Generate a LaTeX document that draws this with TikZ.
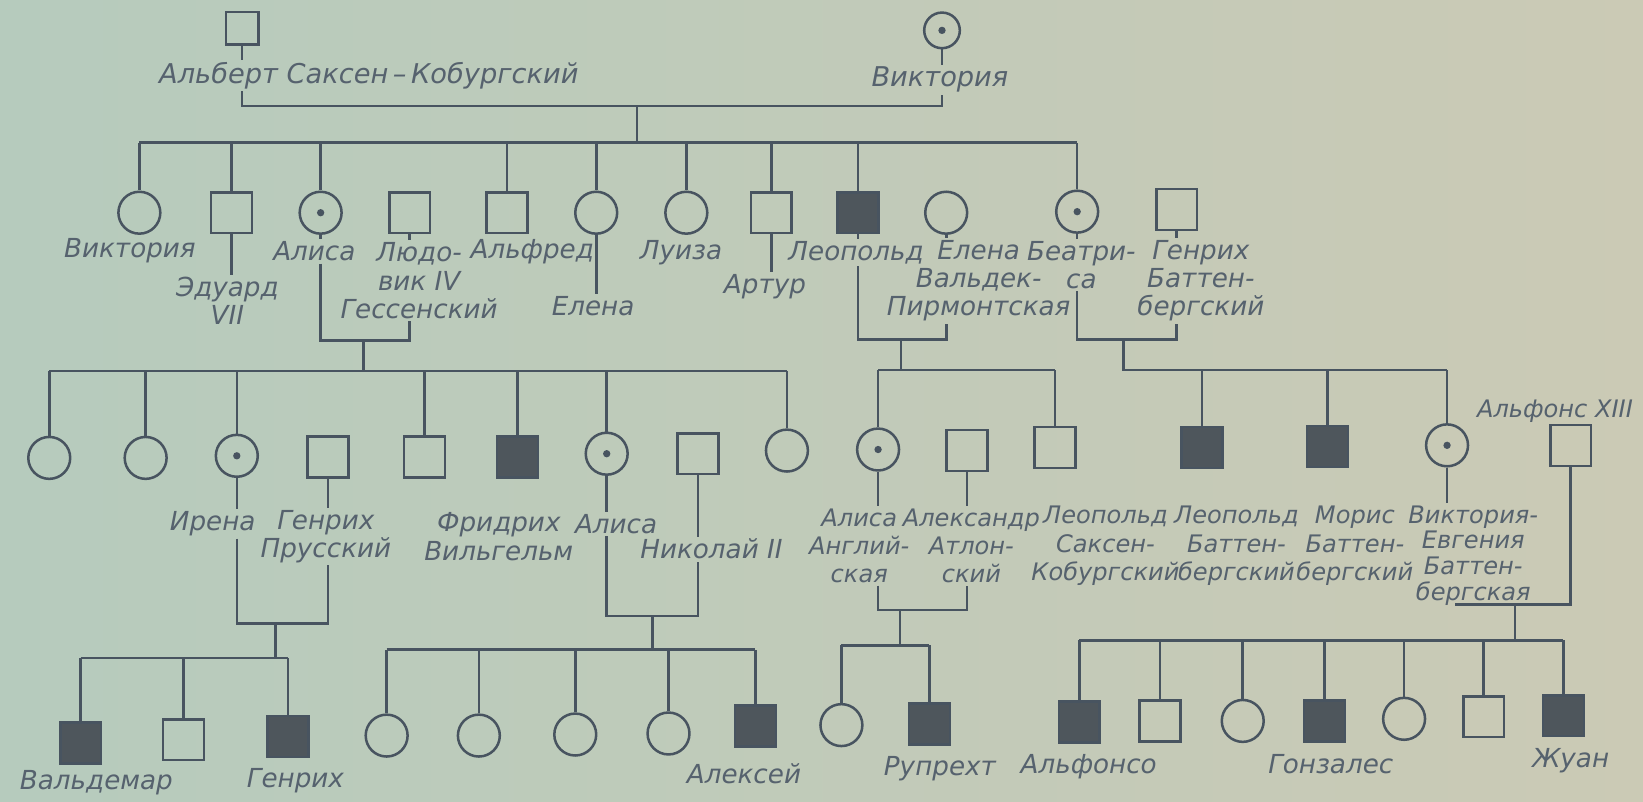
\documentclass[tikz,border=0pt]{standalone}
\usepackage{fontspec}
\setmainfont{DejaVu Sans}
\usepackage{tikz}
\usetikzlibrary{calc}
\usepackage{xcolor}
\definecolor{paperl}{RGB}{182,203,189}
\definecolor{paperr}{RGB}{203,202,181}
\definecolor{ink}{RGB}{72,84,96}
\definecolor{txt}{RGB}{86,98,110}
\definecolor{fillc}{RGB}{78,86,92}

\tikzset{
  male/.style={draw=ink, rectangle, minimum size=39pt, inner sep=0pt, line width=2.4pt},
  ill/.style={male, fill=fillc},
  female/.style={draw=ink, circle, minimum size=40pt, inner sep=0pt, line width=2.4pt},
  carrier/.style={female, path picture={\fill[ink] (path picture bounding box.center) circle (3.5pt);}},
  lbl/.style={text=txt, font=\fontsize{25}{27}\selectfont\itshape, align=center, inner sep=1pt},
  slbl/.style={lbl, font=\fontsize{23}{27}\selectfont\itshape},
}

\begin{document}
\begin{tikzpicture}[x=1pt, y=-1pt, line width=2.5pt, color=ink]
    % фон
    \shade[left color=paperl, right color=paperr] (0,0) rectangle (1568,765);
    \useasboundingbox (0,0) rectangle (1568,765);

    % I поколение
    \node[male, minimum size=31pt] (alb) at (231,27) {};
    \node[carrier, minimum size=34pt] (vic) at (899,29) {};
    \node[lbl, font=\fontsize{26}{28}\selectfont\itshape] (alb-l) at (352,72) {Альберт Саксен\,–\,Кобургский};
    \node[lbl, font=\fontsize{26}{28}\selectfont\itshape] (vic-l) at (897,76) {Виктория};
    \coordinate (mI) at (608,101);
    \draw (alb.south) -- (alb.south |- alb-l.north);
    \draw (vic.south) -- (vic.south |- vic-l.north);
    \draw (alb.south |- alb-l.south) |- (mI) -| (vic.south |- vic-l.south);

    % II поколение
    \node[female]  (c1)  at (133,203) {};
    \node[male]    (c2)  at (221,203) {};
    \node[carrier] (c3)  at (306,203) {};
    \node[male]    (c4)  at (391,203) {};
    \node[male]    (c5)  at (484,203) {};
    \node[female]  (c6)  at (569,203) {};
    \node[female]  (c7)  at (655,203) {};
    \node[male]    (c8)  at (736,203) {};
    \node[ill]     (c9)  at (819,203) {};
    \node[female]  (c10) at (903,203) {};
    \node[carrier] (c11) at (1028,202) {};
    \node[male]    (c12) at (1123,200) {};

    \node[lbl] (c1-l)  at (124,239)  {Виктория};
    \node[lbl] (c2-l)  at (217,287)  {Эдуард\\VII};
    \node[lbl] (c3-l)  at (300,240)  {Алиса};
    \node[lbl] (c4-l)  at (400,268)  {Людо-\\вик IV\\Гессенский};
    \node[lbl] (c5-l)  at (508,240)  {Альфред};
    \node[lbl] (c6-l)  at (566,292)  {Елена};
    \node[lbl] (c7-l)  at (650,241)  {Луиза};
    \node[lbl] (c8-l)  at (730,274)  {Артур};
    \node[lbl] (c9-l)  at (817,241)  {Леопольд};
    \node[lbl] (c10-l) at (934,268)  {Елена\\Вальдек-\\Пирмонтская};
    \node[lbl] (c11-l) at (1032,253) {Беатри-\\са};
    \node[lbl] (c12-l) at (1146,268) {Генрих\\Баттен-\\бергский};

    \coordinate (sII) at (608,136);
    \draw (mI) -- (sII);
    \draw (sII -| c1) -- (sII -| c11);
    \foreach \k in {c1,c2,c3,c5,c6,c7,c8,c9,c11}
        \draw (\k.north) -- (\k |- sII);
    \foreach \k in {c2,c3,c4,c6,c8,c9,c10,c11,c12}
        \draw (\k.south) -- (\k.south |- \k-l.north);

    \coordinate (mA) at (347,325);
    \draw (c3.south |- c3-l.south) |- (mA) -| (c4.south |- c4-l.south);
    \coordinate (mL) at (860,324);
    \draw (c9.south |- c9-l.south) |- (mL) -| (c10.south |- c10-l.south);
    \coordinate (mB) at (1072,324);
    \draw (c11.south |- c11-l.south) |- (mB) -| (c12.south |- c12-l.south);

    % III поколение
    \node[female]  (h1) at (47,437)  {};
    \node[female]  (h2) at (139,437) {};
    \node[carrier] (h3) at (226,435) {};
    \node[male]    (h4) at (313,436) {};
    \node[male]    (h5) at (405,436) {};
    \node[ill]     (h6) at (494,436) {};
    \node[carrier] (h7) at (579,433) {};
    \node[male]    (h8) at (666,433) {};
    \node[female]  (h9) at (751,430) {};
    \node[carrier] (l1) at (838,429)  {};
    \node[male]    (l2) at (923,430)  {};
    \node[male]    (l3) at (1007,427) {};
    \node[ill]     (b1) at (1147,427) {};
    \node[ill]     (b2) at (1267,426) {};
    \node[carrier] (b3) at (1381,425) {};
    \node[male]    (a1) at (1499,425) {};

    \node[lbl]  (h3-l) at (203,500)  {Ирена};
    \node[lbl]  (h4-l) at (311,512)  {Генрих\\Прусский};
    \node[lbl]  (h6-l) at (476,512)  {Фридрих\\Вильгельм};
    \node[lbl]  (h7-l) at (588,500)  {Алиса};
    \node[lbl]  (h8-l) at (679,524)  {Николай II};
    \node[slbl] (l1-l) at (820,521)  {Алиса\\Англий-\\ская};
    \node[slbl] (l2-l) at (927,521)  {Александр\\Атлон-\\ский};
    \node[slbl] (l3-l) at (1055,521) {Леопольд\\Саксен-\\Кобургский};
    \node[slbl] (b1-l) at (1180,521) {Леопольд\\Баттен-\\бергский};
    \node[slbl] (b2-l) at (1293,521) {Морис\\Баттен-\\бергский};
    \node[slbl, font=\fontsize{23}{24.5}\selectfont\itshape] (b3-l) at (1406,530) {Виктория-\\Евгения\\Баттен-\\бергская};
    \node[slbl] (a1-l) at (1484,392) {Альфонс XIII};

    \coordinate (sH) at (347,354);
    \draw (mA) -- (sH);
    \draw (sH -| h1) -- (sH -| h9);
    \foreach \k in {h1,h2,h3,h5,h6,h7,h9}
        \draw (\k.north) -- (\k |- sH);
    \coordinate (sL) at (860,353);
    \draw (mL) -- (sL);
    \draw (sL -| l1) -- (sL -| l3);
    \foreach \k in {l1,l3}
        \draw (\k.north) -- (\k |- sL);
    \coordinate (sB) at (1072,353);
    \draw (mB) -- (sB) -- (sB -| b3);
    \foreach \k in {b1,b2,b3}
        \draw (\k.north) -- (\k |- sB);
    \foreach \k in {h3,h4,h7,h8,l1,l2,b3}
        \draw (\k.south) -- (\k.south |- \k-l.north);

    \coordinate (mI3) at (263,595);
    \draw (h3.south |- h3-l.south) |- (mI3) -| (h4.south |- h4-l.south);
    \coordinate (mN) at (623,588);
    \draw (h7.south |- h7-l.south) |- (mN) -| (h8.south |- h8-l.south);
    \coordinate (mAA) at (859,582);
    \draw (l1.south |- l1-l.south) |- (mAA) -| (l2.south |- l2-l.south);
    \coordinate (mSl) at (1389,577);
    \coordinate (mS) at (1446,577);
    \draw (mSl) -- (mS) -| (a1.south);

    % IV поколение
    \node[ill]    (i1) at (77,709)  {};
    \node[male]   (i2) at (175,706) {};
    \node[ill]    (i3) at (275,703) {};
    \node[female] (n1) at (369,702) {};
    \node[female] (n2) at (457,702) {};
    \node[female] (n3) at (549,701) {};
    \node[female] (n4) at (638,700) {};
    \node[ill]    (n5) at (721,693) {};
    \node[female] (r1) at (803,692) {};
    \node[ill]    (r2) at (887,691) {};
    \node[ill]    (s1) at (1030,689) {};
    \node[male]   (s2) at (1107,688) {};
    \node[female] (s3) at (1186,688) {};
    \node[ill]    (s4) at (1264,688) {};
    \node[female] (s5) at (1340,686) {};
    \node[male]   (s6) at (1416,684) {};
    \node[ill]    (s7) at (1492,683) {};

    \node[lbl] (i1-l) at (92,747)   {Вальдемар};
    \node[lbl] (i3-l) at (282,745)  {Генрих};
    \node[lbl] (n5-l) at (710,738)  {Алексей};
    \node[lbl] (r2-l) at (897,734)  {Рупрехт};
    \node[lbl] (s1-l) at (1039,732) {Альфонсо};
    \node[lbl] (s4-l) at (1270,729) {Гонзалес};
    \node[lbl] (s7-l) at (1499,726) {Жуан};

    \coordinate (sI) at (263,628);
    \draw (mI3) -- (sI);
    \draw (sI -| i1) -- (sI -| i3);
    \foreach \k in {i1,i2,i3}
        \draw (\k.north) -- (\k |- sI);
    \coordinate (sN) at (623,620);
    \draw (mN) -- (sN);
    \draw (sN -| n1) -- (sN -| n5);
    \foreach \k in {n1,n2,n3,n4,n5}
        \draw (\k.north) -- (\k |- sN);
    \coordinate (sR) at (859,616);
    \draw (mAA) -- (sR);
    \draw (sR -| r1) -- (sR -| r2);
    \foreach \k in {r1,r2}
        \draw (\k.north) -- (\k |- sR);
    \coordinate (sS) at (1446,611);
    \draw (mS) -- (sS);
    \draw (sS -| s1) -- (sS -| s7);
    \foreach \k in {s1,s2,s3,s4,s5,s6,s7}
        \draw (\k.north) -- (\k |- sS);
\end{tikzpicture}
\end{document}
